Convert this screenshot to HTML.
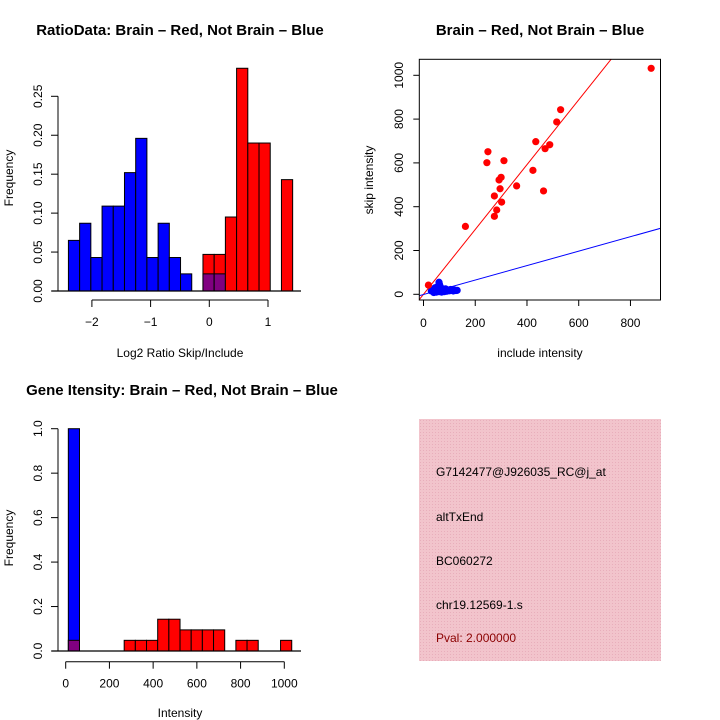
<!DOCTYPE html>
<html><head><meta charset="utf-8"><style>
html,body{margin:0;padding:0;background:#fff}
svg{display:block;font-family:"Liberation Sans",sans-serif}
</style></head><body>
<svg id="c" width="720" height="720" viewBox="0 0 720 720" xmlns="http://www.w3.org/2000/svg">
<defs><pattern id="hatch" width="3" height="3" patternUnits="userSpaceOnUse"><rect width="3" height="3" fill="#f2c4cc"/><rect width="1" height="1" fill="#e8aebb"/></pattern></defs>
<g id="tl"></g>
<g id="tr"></g>
<g id="bl"></g>
<g>
<rect x="419" y="419" width="242" height="242" fill="url(#hatch)"/>
<text x="436" y="476" font-size="12">G7142477@J926035_RC@j_at</text>
<text x="436" y="521" font-size="12">altTxEnd</text>
<text x="436" y="565" font-size="12">BC060272</text>
<text x="436" y="609" font-size="12">chr19.12569-1.s</text>
<text x="436" y="642" font-size="12" fill="#8b0000">Pval: 2.000000</text>
</g>
</svg>
<script>
// ---- Ratio histogram data
const ratioStart = -2.40, ratioBin = 0.191;
const ratioBlue = [0.065,0.087,0.043,0.109,0.109,0.152,0.196,0.043,0.087,0.043,0.022,0,0.022,0.022,0,0,0,0,0,0];
const ratioRed  = [0,0,0,0,0,0,0,0,0,0,0,0,0.047,0.047,0.095,0.286,0.19,0.19,0,0.143];
const ratioXTicks = [-2,-1,0,1];
const ratioYTicks = ["0.00","0.05","0.10","0.15","0.20","0.25"];
// ---- Scatter data
const redX = [880,530,515,434,488,470,249,245,311,423,300,292,296,360,464,274,302,283,274,162,19];
const redY = [1032,843,787,697,683,665,651,601,610,566,534,522,482,495,472,449,421,385,356,310,42];
const blueX = [30,35,40,45,50,55,58,60,62,65,68,70,72,75,80,85,90,95,100,105,110,115,120,125,130,40,50,60,70,80,45,55,65];
const blueY = [15,20,12,25,18,30,40,55,45,35,28,22,15,20,18,25,14,20,16,22,18,15,20,17,18,8,10,12,10,12,30,35,25];
const redLine = [0,1.48];   // intercept, slope
const blueLine = [-1,0.33];
const scXTicks = [0,200,400,600,800];
const scYTicks = [0,200,400,600,800,1000];
// ---- Gene intensity histogram data
const intStart = 12, intBin = 51.1;
const intBlue = [1.0,0,0,0,0,0,0,0,0,0,0,0,0,0,0,0,0,0,0,0];
const intRed  = [0.048,0,0,0,0,0.048,0.048,0.048,0.143,0.143,0.095,0.095,0.095,0.095,0,0.048,0.048,0,0,0.048];
const intXTicks = [0,200,400,600,800,1000];
const intYTicks = ["0.0","0.2","0.4","0.6","0.8","1.0"];

const NS="http://www.w3.org/2000/svg";
function mk(p,tag,a,txt){const e=document.createElementNS(NS,tag);for(const k in a)e.setAttribute(k,a[k]);if(txt!==undefined)e.textContent=txt;p.appendChild(e);return e;}

function hist(g,o){
  const {start,bin,blue,red,xs,ys,yv,ytx}=o;
  const X=v=>o.x0+v*o.xk, Y=v=>o.y0-v*o.yk;
  for(let i=0;i<blue.length;i++){
    const l=X(start+i*bin), r=X(start+(i+1)*bin);
    const b=blue[i], rd=red[i];
    const mn=Math.min(b,rd), mx=Math.max(b,rd);
    if(mx>0){
      const col=b>rd?"#0000ff":"#ff0000";
      const e=mk(g,"rect",{x:l,y:Y(mx),width:r-l,height:Y(0)-Y(mx),fill:col,stroke:"#000","stroke-width":1});
      
      
    }
    if(mn>0){
      const e=mk(g,"rect",{x:l,y:Y(mn),width:r-l,height:Y(0)-Y(mn),fill:"#800080",stroke:"#000","stroke-width":1});
      
      
    }
  }
  mk(g,"line",{x1:52,x2:301,y1:Y(0),y2:Y(0),stroke:"#000","stroke-width":1.3});
  const ax=o.axisY;
  mk(g,"line",{x1:X(xs[0]),x2:X(xs[xs.length-1]),y1:ax,y2:ax,stroke:"#000"});
  xs.forEach(v=>{mk(g,"line",{x1:X(v),x2:X(v),y1:ax,y2:ax+7,stroke:"#000"});
    const t=mk(g,"text",{x:X(v),y:ax+26,"font-size":12,"text-anchor":"middle"},o.xlab?o.xlab(v):v);
    
    });
  mk(g,"line",{x1:58,x2:58,y1:Y(yv[0]),y2:Y(yv[yv.length-1]),stroke:"#000"});
  yv.forEach((v,i)=>{mk(g,"line",{x1:51,x2:58,y1:Y(v),y2:Y(v),stroke:"#000"});
    const t=mk(g,"text",{x:42,y:Y(v),"font-size":12,"text-anchor":"middle",transform:`rotate(-90 42 ${Y(v)})`},ytx[i]);
    
    });
}

// top-left
const tl=document.getElementById("tl");
hist(tl,{start:ratioStart,bin:ratioBin,blue:ratioBlue,red:ratioRed,xs:ratioXTicks,yv:ratioYTicks.map(Number),ytx:ratioYTicks,
  x0:209.3,xk:58.7,y0:291,yk:778.8,axisY:300,xlab:v=>v<0?"\u2212"+(-v):v});
{let t=mk(tl,"text",{x:180,y:35,"font-size":15,"font-weight":"bold","text-anchor":"middle"},"RatioData: Brain \u2013 Red, Not Brain \u2013 Blue");

t=mk(tl,"text",{x:180,y:357,"font-size":12,"text-anchor":"middle"},"Log2 Ratio Skip/Include");

t=mk(tl,"text",{x:13,y:178,"font-size":12,"text-anchor":"middle",transform:"rotate(-90 13 178)"},"Frequency");
}

// bottom-left
const bl=document.getElementById("bl");
hist(bl,{start:intStart,bin:intBin,blue:intBlue,red:intRed,xs:intXTicks,yv:intYTicks.map(Number),ytx:intYTicks,
  x0:65.7,xk:0.2186,y0:651,yk:222.3,axisY:661.7});
{let t=mk(bl,"text",{x:182,y:395,"font-size":15,"font-weight":"bold","text-anchor":"middle"},"Gene Itensity: Brain \u2013 Red, Not Brain \u2013 Blue");

t=mk(bl,"text",{x:180,y:717,"font-size":12,"text-anchor":"middle"},"Intensity");

t=mk(bl,"text",{x:13,y:538,"font-size":12,"text-anchor":"middle",transform:"rotate(-90 13 538)"},"Frequency");
}

// scatter
const tr=document.getElementById("tr");
const SX=v=>423.5+v*0.2587, SY=v=>294.3-v*0.219;
const L=419.3,R=660.5,T=59.3,B=300;
mk(tr,"defs",{}).innerHTML='<clipPath id="cp"><rect x="'+L+'" y="'+T+'" width="'+(R-L)+'" height="'+(B-T)+'"/></clipPath>';
const pg=mk(tr,"g",{"clip-path":"url(#cp)"});
blueX.forEach((x,i)=>{const e=mk(pg,"circle",{cx:SX(x),cy:SY(blueY[i]),r:3.6,fill:"#0000ff"});
  });
redX.forEach((x,i)=>{const e=mk(pg,"circle",{cx:SX(x),cy:SY(redY[i]),r:3.6,fill:"#ff0000"});
  });
function ab(line,col,name){const xa=-100,xb=1200;
  const e=mk(pg,"line",{x1:SX(xa),y1:SY(line[0]+line[1]*xa),x2:SX(xb),y2:SY(line[0]+line[1]*xb),stroke:col,"stroke-width":1});
  }
ab(redLine,"#ff0000","red-fit-line");ab(blueLine,"#0000ff","blue-fit-line");
mk(tr,"rect",{x:L,y:T,width:R-L,height:B-T,fill:"none",stroke:"#000"});
scXTicks.forEach(v=>{mk(tr,"line",{x1:SX(v),x2:SX(v),y1:B,y2:B+6,stroke:"#000"});
  const t=mk(tr,"text",{x:SX(v),y:327,"font-size":12,"text-anchor":"middle"},v);
  });
scYTicks.forEach(v=>{mk(tr,"line",{x1:L-6,x2:L,y1:SY(v),y2:SY(v),stroke:"#000"});
  const t=mk(tr,"text",{x:403,y:SY(v),"font-size":12,"text-anchor":"middle",transform:`rotate(-90 403 ${SY(v)})`},v);
  });
{let t=mk(tr,"text",{x:540,y:35,"font-size":15,"font-weight":"bold","text-anchor":"middle"},"Brain \u2013 Red, Not Brain \u2013 Blue");

t=mk(tr,"text",{x:540,y:357,"font-size":12,"text-anchor":"middle"},"include intensity");

t=mk(tr,"text",{x:373,y:180,"font-size":12,"text-anchor":"middle",transform:"rotate(-90 373 180)"},"skip intensity");
}
</script>
</body></html>
